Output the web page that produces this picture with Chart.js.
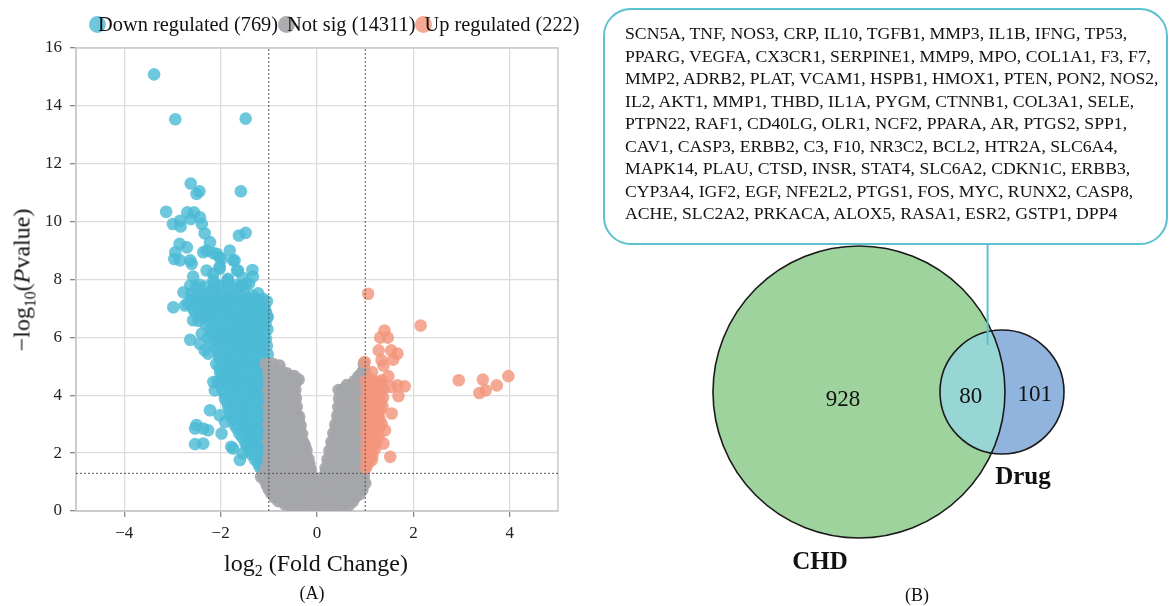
<!DOCTYPE html>
<html>
<head>
<meta charset="utf-8">
<script src="https://cdn.jsdelivr.net/npm/chart.js@4.4.1/dist/chart.umd.min.js"></script>
<style>
  html, body { margin: 0; padding: 0; background: #fff; }
  body { width: 1171px; height: 606px; position: relative; overflow: hidden; font-family: "Liberation Serif", "Times New Roman", serif; color: #111; }
  #volcanoWrap { position: absolute; left: 0; top: 0; width: 590px; height: 606px; }
  #vennWrap { position: absolute; left: 590px; top: 0; width: 581px; height: 606px; }
  .legend { position: absolute; left: 89px; top: 11px; font-size: 20.4px; white-space: nowrap; line-height: 26px; }
  .legend .dot { display: inline-block; width: 17px; height: 17px; border-radius: 50%; vertical-align: -2px; margin-right: -8px; }
  .ytitle { position: absolute; left: 22px; top: 280px; transform: translate(-50%, -50%) rotate(-90deg); font-size: 24px; white-space: nowrap; }
  .xtitle { position: absolute; left: 316px; top: 563px; transform: translate(-50%, -50%); font-size: 24px; white-space: nowrap; }
  sub { font-size: 0.66em; vertical-align: -0.35em; line-height: 0; }
  .panel { position: absolute; font-size: 18px; transform: translate(-50%, -50%); }
  .genebox { position: absolute; left: 603px; top: 8px; width: 561px; height: 233px; border: 2.5px solid #5bc0cf; border-radius: 28px; background: #fff; z-index: 2; box-sizing: content-box; }
  .genebox .txt { position: absolute; left: 20px; top: 12px; font-size: 17.7px; line-height: 22.5px; white-space: nowrap; }
</style>
</head>
<body>
<div id="volcanoWrap"><canvas id="volcano" width="590" height="606"></canvas></div>
<div id="vennWrap"><canvas id="venn" width="581" height="606"></canvas></div>

<div class="legend" id="legend"></div>
<div class="ytitle">&minus;log<sub>10</sub>(<i>P</i>value)</div>
<div class="xtitle">log<sub>2</sub> (Fold Change)</div>
<div class="panel" style="left:312px; top:593px;">(A)</div>
<div class="panel" style="left:917px; top:595px;">(B)</div>

<div class="genebox" id="genebox"><div class="txt" id="genes"></div></div>

<script>
// ---- volcano plot data ----
const groupNames = ['Down regulated', 'Not sig', 'Up regulated'];
const groupCounts = [769, 14311, 222];
const groupColors = ['rgba(77,187,213,0.82)', 'rgba(165,166,170,0.92)', 'rgba(243,150,124,0.82)'];
const xTicks = [-4, -2, 0, 2, 4];
const yTicks = [0, 2, 4, 6, 8, 10, 12, 14, 16];
const fcCutoff = 1;
const pCutoff = 0.05;

const downPoints = [
  [-3.38,15.09],[-2.94,13.54],[-1.48,13.56],[-2.62,11.32],[-2.50,10.96],[-2.44,11.05],[-1.58,11.05],
  [-3.13,10.34],[-2.69,10.32],[-2.55,10.32],[-2.43,10.15],[-2.99,9.92],[-2.84,10.03],[-2.83,9.83],
  [-2.62,10.09],[-2.39,9.92],[-2.33,9.60],[-1.62,9.52],[-1.48,9.61],[-2.85,9.23],[-2.70,9.11],[-2.22,9.29],
  [-2.94,8.94],[-2.96,8.71],[-2.84,8.66],[-2.63,8.66],[-2.60,8.54],[-2.36,8.94],[-2.29,9.0],[-2.15,8.91],
  [-2.02,8.77],[-1.81,9.0],[-1.74,8.66],[-1.66,8.31],[-2.29,8.31],[-2.15,8.2],[-2.02,8.37],[-1.34,8.33],
  [-1.33,8.1],[-2.57,8.1],[-1.85,8.02],[-1.54,8.06],[-2.08,8.89],[-1.98,8.71],[-1.71,8.66],[-2.02,8.43],
  [-1.64,8.31],[-2.15,7.97],[-1.85,7.97],[-2.63,7.79],[-2.77,7.56],[-2.50,7.74],[-2.29,7.33],[-2.46,7.39],
  [-2.15,7.62],[-2.02,7.74],[-1.81,7.62],[-1.60,7.74],[-1.47,7.85],[-2.98,7.04],[-2.74,7.10],[-2.60,7.33],
  [-2.02,7.16],[-1.81,7.04],[-1.64,7.28],[-1.40,7.04],[-1.13,6.70],[-1.02,6.70],
  [-2.57,6.99],[-2.57,6.59],[-2.43,6.76],[-2.63,5.92],[-2.43,5.78],[-2.33,5.55],[-2.26,5.44],[-2.39,6.13],
  [-2.15,4.46],[-2.12,4.17],[-2.22,3.48],[-2.02,3.31],[-1.98,2.68],[-2.50,2.97],[-2.53,2.85],[-2.36,2.85],
  [-2.26,2.79],[-2.53,2.31],[-2.36,2.33],[-1.78,2.22],[-1.91,3.08],[-1.74,2.16],[-1.60,1.76],[-1.54,1.99],
  [-1.19,1.53],
  [-2.44,7.82],[-2.31,7.76],[-2.13,7.85],[-1.98,7.79],[-1.84,7.88],[-1.69,7.8],[-1.56,7.77],[-1.41,7.86],
  [-2.61,7.5],[-2.41,7.47],[-2.26,7.55],[-2.09,7.44],[-1.94,7.52],[-1.79,7.46],[-1.66,7.54],[-1.51,7.49],[-1.36,7.45],[-1.22,7.52],
  [-2.68,7.18],[-2.49,7.23],[-2.36,7.15],[-2.21,7.21],[-2.04,7.17],[-1.89,7.24],[-1.76,7.16],[-1.59,7.2],[-1.46,7.14],[-1.31,7.22],[-1.16,7.17],[-1.04,7.25],
  [-2.53,6.88],[-2.39,6.93],[-2.24,6.86],[-2.11,6.92],[-1.96,6.87],[-1.79,6.94],[-1.66,6.85],[-1.49,6.91],[-1.34,6.86],[-1.21,6.93],[-1.06,6.88],
  [-2.46,6.57],[-2.29,6.63],[-2.16,6.55],[-1.99,6.61],[-1.86,6.58],[-1.69,6.64],[-1.54,6.56],[-1.41,6.62],[-1.26,6.57],[-1.11,6.63],
  [-2.21,6.28],[-2.06,6.33],[-1.91,6.26],[-1.74,6.31],[-1.61,6.27],[-1.44,6.34],[-1.29,6.25],[-1.16,6.31],[-1.03,6.28],
  [-2.26,5.98],[-2.09,6.03],[-1.94,5.96],[-1.81,6.02],[-1.64,5.97],[-1.51,6.04],[-1.34,5.99],[-1.19,6.01],[-1.06,5.95],
  [-2.11,5.68],[-1.96,5.73],[-1.79,5.66],[-1.66,5.72],[-1.49,5.67],[-1.36,5.74],[-1.21,5.69],[-1.04,5.71],
  [-2.04,5.38],[-1.89,5.43],[-1.76,5.36],[-1.59,5.42],[-1.46,5.37],[-1.31,5.44],[-1.14,5.39],[-1.02,5.41],
  [-2.09,5.08],[-1.94,5.13],[-1.81,5.06],[-1.64,5.12],[-1.51,5.07],[-1.34,5.14],[-1.19,5.09],[-1.05,5.11],
  [-2.01,4.78],[-1.86,4.83],[-1.69,4.76],[-1.56,4.82],[-1.39,4.77],[-1.26,4.84],[-1.09,4.79],
  [-2.06,4.48],[-1.89,4.53],[-1.76,4.46],[-1.61,4.52],[-1.44,4.47],[-1.31,4.54],[-1.16,4.49],[-1.02,4.51],
  [-1.96,4.18],[-1.81,4.23],[-1.64,4.16],[-1.51,4.22],[-1.34,4.17],[-1.21,4.24],[-1.06,4.19],
  [-1.91,3.88],[-1.74,3.93],[-1.61,3.86],[-1.44,3.92],[-1.31,3.87],[-1.14,3.94],[-1.02,3.89],
  [-1.84,3.58],[-1.71,3.63],[-1.54,3.56],[-1.41,3.62],[-1.24,3.57],[-1.11,3.64],
  [-1.79,3.28],[-1.66,3.33],[-1.49,3.26],[-1.36,3.32],[-1.19,3.27],[-1.06,3.34],
  [-1.71,2.98],[-1.54,3.03],[-1.41,2.96],[-1.24,3.02],[-1.11,2.97],
  [-1.61,2.68],[-1.44,2.73],[-1.31,2.66],[-1.16,2.72],[-1.02,2.67],
  [-1.49,2.38],[-1.36,2.43],[-1.21,2.36],[-1.06,2.42],
  [-1.41,2.08],[-1.24,2.13],[-1.11,2.06],
  [-1.29,1.78],[-1.16,1.83],[-1.03,1.76],
  [-1.13,1.48],[-1.02,1.52],
  [-2.53,7.35],[-2.37,7.33],[-2.19,7.37],[-2.03,7.34],[-1.87,7.36],[-1.72,7.32],[-1.58,7.38],[-1.43,7.34],[-1.28,7.36],[-1.12,7.33],
  [-2.45,7.05],[-2.3,7.03],[-2.14,7.07],[-1.98,7.04],[-1.83,7.06],[-1.69,7.02],[-1.53,7.08],[-1.38,7.04],[-1.24,7.06],[-1.09,7.03],
  [-2.38,6.75],[-2.22,6.73],[-2.07,6.77],[-1.92,6.74],[-1.77,6.76],[-1.62,6.72],[-1.47,6.78],[-1.32,6.74],[-1.18,6.76],[-1.04,6.73],
  [-2.31,6.45],[-2.14,6.43],[-1.98,6.47],[-1.83,6.44],[-1.68,6.46],[-1.52,6.42],[-1.37,6.48],[-1.22,6.44],[-1.07,6.46],
  [-2.17,6.15],[-2.0,6.13],[-1.85,6.17],[-1.69,6.14],[-1.54,6.16],[-1.39,6.12],[-1.24,6.18],[-1.09,6.14],
  [-2.19,5.85],[-2.03,5.83],[-1.87,5.87],[-1.72,5.84],[-1.57,5.86],[-1.42,5.82],[-1.27,5.88],[-1.12,5.84],
  [-2.06,5.55],[-1.9,5.53],[-1.74,5.57],[-1.59,5.54],[-1.43,5.56],[-1.28,5.52],[-1.13,5.58],
  [-2.02,5.25],[-1.86,5.23],[-1.71,5.27],[-1.56,5.24],[-1.41,5.26],[-1.26,5.22],[-1.1,5.28],
  [-2.02,4.95],[-1.87,4.93],[-1.72,4.97],[-1.57,4.94],[-1.42,4.96],[-1.27,4.92],[-1.12,4.98],
  [-1.97,4.65],[-1.82,4.63],[-1.66,4.67],[-1.51,4.64],[-1.36,4.66],[-1.21,4.62],[-1.06,4.68],
  [-2.0,4.35],[-1.84,4.33],[-1.69,4.37],[-1.54,4.34],[-1.38,4.36],[-1.23,4.32],[-1.09,4.38],
  [-1.92,4.05],[-1.76,4.03],[-1.61,4.07],[-1.45,4.04],[-1.3,4.06],[-1.15,4.02],
  [-1.86,3.75],[-1.7,3.73],[-1.55,3.77],[-1.39,3.74],[-1.24,3.76],[-1.09,3.72],
  [-1.8,3.45],[-1.64,3.43],[-1.48,3.47],[-1.33,3.44],[-1.18,3.46],[-1.04,3.42],
  [-1.74,3.15],[-1.58,3.13],[-1.43,3.17],[-1.28,3.14],[-1.13,3.16],
  [-1.66,2.85],[-1.51,2.83],[-1.36,2.87],[-1.21,2.84],[-1.07,2.86],
  [-1.55,2.55],[-1.4,2.53],[-1.26,2.57],[-1.11,2.54],
  [-1.46,2.25],[-1.31,2.23],[-1.17,2.27],[-1.04,2.24],
  [-1.35,1.95],[-1.21,1.93],[-1.07,1.97],
  [-1.22,1.65],[-1.08,1.63]
];

const notSigPoints = [
  [-1.06,5.09],[-0.92,5.09],[-0.78,5.03],[-0.54,4.63],[-0.38,4.54],[0.52,4.17],[0.62,4.20],[0.93,4.75],[0.97,5.09],
  [-1.16,1.18],[1.0,0.96],
  [-1.01,4.81],[-0.87,4.78],[-0.75,4.83],[-0.63,4.76],
  [-1.0,4.49],[-0.89,4.52],[-0.77,4.47],[-0.65,4.51],[-0.53,4.46],[-0.43,4.49],
  [-1.01,4.19],[-0.87,4.22],[-0.76,4.17],[-0.63,4.21],[-0.52,4.16],[-0.45,4.2],
  [-1.0,3.89],[-0.88,3.92],[-0.75,3.87],[-0.64,3.91],[-0.51,3.88],[-0.44,3.9],
  [-1.01,3.59],[-0.87,3.62],[-0.76,3.57],[-0.63,3.61],[-0.52,3.58],[-0.42,3.6],
  [-1.0,3.29],[-0.88,3.32],[-0.75,3.27],[-0.64,3.31],[-0.51,3.28],[-0.41,3.3],[-0.37,3.26],
  [-1.01,2.99],[-0.87,3.02],[-0.76,2.97],[-0.63,3.01],[-0.52,2.98],[-0.41,3.0],[-0.34,2.96],
  [-1.0,2.69],[-0.88,2.72],[-0.75,2.67],[-0.64,2.71],[-0.51,2.68],[-0.4,2.7],[-0.31,2.66],
  [-1.01,2.39],[-0.87,2.42],[-0.76,2.37],[-0.63,2.41],[-0.52,2.38],[-0.39,2.4],[-0.28,2.36],
  [-1.0,2.09],[-0.88,2.12],[-0.75,2.07],[-0.64,2.11],[-0.51,2.08],[-0.4,2.1],[-0.29,2.06],[-0.22,2.1],
  [-1.01,1.79],[-0.87,1.82],[-0.76,1.77],[-0.63,1.81],[-0.52,1.78],[-0.39,1.8],[-0.28,1.76],[-0.18,1.8],
  [-1.05,1.49],[-0.92,1.52],[-0.8,1.47],[-0.68,1.51],[-0.56,1.48],[-0.44,1.5],[-0.32,1.46],[-0.2,1.5],[-0.14,1.47],
  [-1.11,1.19],[-1.0,1.22],[-0.88,1.17],[-0.76,1.21],[-0.64,1.18],[-0.52,1.2],[-0.4,1.16],[-0.28,1.2],[-0.18,1.17],[-0.1,1.21],
  [-1.04,0.89],[-0.92,0.92],[-0.8,0.87],[-0.68,0.91],[-0.56,0.88],[-0.44,0.9],[-0.32,0.86],[-0.2,0.9],[-0.08,0.87],
  [-0.95,0.61],[-0.82,0.58],[-0.7,0.62],[-0.58,0.57],[-0.46,0.61],[-0.34,0.58],[-0.22,0.62],[-0.11,0.58],[-0.05,0.62],
  [-0.8,0.34],[-0.68,0.37],[-0.56,0.32],[-0.44,0.36],[-0.32,0.33],[-0.2,0.37],[-0.08,0.33],[-0.03,0.36],
  [-0.5,0.1],[-0.38,0.13],[-0.26,0.08],[-0.14,0.12],[-0.04,0.09],
  [-0.95,4.65],[-0.82,4.63],[-0.7,4.67],[-0.58,4.64],[-0.47,4.66],
  [-0.95,4.35],[-0.83,4.33],[-0.7,4.37],[-0.58,4.34],[-0.48,4.36],
  [-0.94,4.05],[-0.82,4.03],[-0.7,4.07],[-0.57,4.04],[-0.47,4.06],
  [-0.95,3.75],[-0.81,3.73],[-0.7,3.77],[-0.58,3.74],[-0.47,3.76],
  [-0.94,3.45],[-0.82,3.43],[-0.69,3.47],[-0.57,3.44],[-0.46,3.46],
  [-0.95,3.15],[-0.82,3.13],[-0.7,3.17],[-0.58,3.14],[-0.46,3.16],[-0.38,3.12],
  [-0.94,2.85],[-0.81,2.83],[-0.7,2.87],[-0.57,2.84],[-0.46,2.86],[-0.36,2.82],
  [-0.95,2.55],[-0.82,2.53],[-0.69,2.57],[-0.58,2.54],[-0.45,2.56],[-0.33,2.52],
  [-0.94,2.25],[-0.82,2.23],[-0.7,2.27],[-0.57,2.24],[-0.45,2.26],[-0.33,2.22],[-0.25,2.26],
  [-0.95,1.95],[-0.81,1.93],[-0.7,1.97],[-0.58,1.94],[-0.46,1.96],[-0.34,1.92],[-0.23,1.96],
  [-0.99,1.65],[-0.86,1.63],[-0.74,1.67],[-0.62,1.64],[-0.5,1.66],[-0.38,1.62],[-0.26,1.66],[-0.16,1.63],
  [-1.06,1.35],[-0.94,1.33],[-0.82,1.37],[-0.7,1.34],[-0.58,1.36],[-0.46,1.32],[-0.34,1.36],[-0.22,1.33],[-0.13,1.36],
  [-1.08,1.05],[-0.97,1.03],[-0.85,1.07],[-0.73,1.04],[-0.61,1.06],[-0.49,1.02],[-0.37,1.06],[-0.25,1.03],[-0.13,1.06],[-0.07,1.03],
  [-1.0,0.75],[-0.87,0.73],[-0.75,0.77],[-0.63,0.74],[-0.51,0.76],[-0.39,0.72],[-0.27,0.76],[-0.15,0.73],[-0.06,0.76],
  [-0.89,0.48],[-0.76,0.46],[-0.64,0.5],[-0.52,0.47],[-0.4,0.49],[-0.28,0.45],[-0.16,0.49],[-0.06,0.46],
  [-0.66,0.22],[-0.55,0.2],[-0.43,0.24],[-0.31,0.21],[-0.19,0.23],[-0.09,0.2],
  [0.95,4.82],[1.0,4.78],
  [0.78,4.49],[0.9,4.52],[1.0,4.47],
  [0.45,4.18],[0.57,4.22],[0.68,4.17],[0.8,4.21],[0.92,4.19],[1.0,4.23],
  [0.46,3.89],[0.58,3.92],[0.7,3.87],[0.82,3.91],[0.94,3.88],
  [0.44,3.59],[0.56,3.62],[0.68,3.57],[0.8,3.61],[0.92,3.58],
  [0.42,3.29],[0.54,3.32],[0.66,3.27],[0.78,3.31],[0.9,3.28],[0.98,3.3],
  [0.38,2.99],[0.5,3.02],[0.62,2.97],[0.74,3.01],[0.86,2.98],[0.98,3.0],
  [0.34,2.69],[0.46,2.72],[0.58,2.67],[0.7,2.71],[0.82,2.68],[0.94,2.7],
  [0.3,2.39],[0.42,2.42],[0.54,2.37],[0.66,2.41],[0.78,2.38],[0.9,2.4],[0.99,2.37],
  [0.26,2.09],[0.38,2.12],[0.5,2.07],[0.62,2.11],[0.74,2.08],[0.86,2.1],[0.98,2.06],
  [0.22,1.79],[0.34,1.82],[0.46,1.77],[0.58,1.81],[0.7,1.78],[0.82,1.8],[0.94,1.76],
  [0.18,1.49],[0.3,1.52],[0.42,1.47],[0.54,1.51],[0.66,1.48],[0.78,1.5],[0.9,1.46],[0.99,1.5],
  [0.13,1.19],[0.25,1.22],[0.37,1.17],[0.49,1.21],[0.61,1.18],[0.73,1.2],[0.85,1.16],[0.97,1.2],
  [0.08,0.89],[0.2,0.92],[0.32,0.87],[0.44,0.91],[0.56,0.88],[0.68,0.9],[0.8,0.86],[0.92,0.9],
  [0.05,0.61],[0.16,0.58],[0.28,0.62],[0.4,0.57],[0.52,0.61],[0.64,0.58],[0.76,0.62],[0.88,0.58],
  [0.03,0.34],[0.14,0.37],[0.26,0.32],[0.38,0.36],[0.5,0.33],[0.62,0.37],[0.74,0.33],
  [0.04,0.1],[0.14,0.13],[0.26,0.08],[0.38,0.12],[0.48,0.09],
  [0.86,4.65],[0.96,4.63],
  [0.62,4.35],[0.74,4.33],[0.86,4.37],[0.97,4.34],
  [0.52,4.05],[0.64,4.03],[0.76,4.07],[0.88,4.04],[0.99,4.06],
  [0.5,3.75],[0.62,3.73],[0.74,3.77],[0.86,3.74],[0.97,3.76],
  [0.48,3.45],[0.6,3.43],[0.72,3.47],[0.84,3.44],[0.96,3.46],
  [0.44,3.15],[0.56,3.13],[0.68,3.17],[0.8,3.14],[0.92,3.16],
  [0.4,2.85],[0.52,2.83],[0.64,2.87],[0.76,2.84],[0.88,2.86],[0.99,2.82],
  [0.36,2.55],[0.48,2.53],[0.6,2.57],[0.72,2.54],[0.84,2.56],[0.96,2.52],
  [0.32,2.25],[0.44,2.23],[0.56,2.27],[0.68,2.24],[0.8,2.26],[0.92,2.22],
  [0.28,1.95],[0.4,1.93],[0.52,1.97],[0.64,1.94],[0.76,1.96],[0.88,1.92],[0.99,1.96],
  [0.24,1.65],[0.36,1.63],[0.48,1.67],[0.6,1.64],[0.72,1.66],[0.84,1.62],[0.96,1.66],
  [0.19,1.35],[0.31,1.33],[0.43,1.37],[0.55,1.34],[0.67,1.36],[0.79,1.32],[0.91,1.36],
  [0.14,1.05],[0.26,1.03],[0.38,1.07],[0.5,1.04],[0.62,1.06],[0.74,1.02],[0.86,1.06],[0.97,1.03],
  [0.1,0.75],[0.22,0.73],[0.34,0.77],[0.46,0.74],[0.58,0.76],[0.7,0.72],[0.82,0.76],[0.94,0.73],
  [0.09,0.48],[0.2,0.46],[0.32,0.5],[0.44,0.47],[0.56,0.49],[0.68,0.45],[0.8,0.49],
  [0.09,0.22],[0.2,0.2],[0.32,0.24],[0.44,0.21],[0.56,0.23],[0.66,0.2]
];

const upPoints = [
  [1.06,7.51],[2.15,6.41],[1.40,6.24],[1.31,5.99],[1.47,5.99],[1.28,5.55],[1.54,5.55],[1.67,5.44],
  [1.58,5.23],[1.34,5.21],[1.38,5.03],[0.99,5.15],[1.14,4.80],[1.48,4.66],[1.34,4.52],[1.67,4.34],
  [1.82,4.31],[1.69,3.97],[1.54,4.29],[2.94,4.52],[3.44,4.54],[3.73,4.34],[3.97,4.66],[3.50,4.17],
  [3.37,4.08],[1.55,3.37],[1.41,2.79],[1.38,2.33],[1.21,2.16],[1.52,1.87],[1.14,1.76],
  [1.02,4.49],[1.14,4.53],[1.26,4.46],
  [1.03,4.19],[1.15,4.22],[1.26,4.17],[1.38,4.21],
  [1.02,3.89],[1.13,3.92],[1.25,3.87],[1.37,3.91],
  [1.03,3.59],[1.14,3.62],[1.26,3.57],[1.36,3.61],
  [1.02,3.29],[1.15,3.32],[1.27,3.27],
  [1.03,2.99],[1.14,3.02],[1.25,2.97],[1.34,3.01],
  [1.02,2.69],[1.13,2.72],[1.24,2.67],
  [1.03,2.39],[1.12,2.42],[1.22,2.37],
  [1.02,2.09],[1.11,2.12],
  [1.03,1.79],[1.1,1.82],
  [1.02,1.49],
  [1.08,4.35],[1.2,4.33],[1.32,4.37],
  [1.08,4.05],[1.2,4.03],[1.31,4.07],
  [1.08,3.75],[1.2,3.73],[1.32,3.77],
  [1.08,3.45],[1.2,3.43],[1.31,3.47],
  [1.08,3.15],[1.2,3.13],[1.3,3.17],
  [1.08,2.85],[1.19,2.83],[1.29,2.87],
  [1.07,2.55],[1.17,2.53],[1.28,2.57],
  [1.07,2.25],[1.16,2.23],
  [1.06,1.95],[1.15,1.93],
  [1.06,1.65]
];

// ---- Venn data ----
const vennSets = ['CHD', 'Drug'];
const vennOnly = [928, 101];
const vennShared = 80;
const vennCenterX = [26.9, 41.2];
const vennCenterY = [21.4, 21.4];
const vennRadius = [14.6, 6.2];
const vennColors = ['#9ed39e', '#91b4df'];
const vennSharedColor = '#98d6d6';

const sharedGenes = [
  'SCN5A, TNF, NOS3, CRP, IL10, TGFB1, MMP3, IL1B, IFNG, TP53,',
  'PPARG, VEGFA, CX3CR1, SERPINE1, MMP9, MPO, COL1A1, F3, F7,',
  'MMP2, ADRB2, PLAT, VCAM1, HSPB1, HMOX1, PTEN, PON2, NOS2,',
  'IL2, AKT1, MMP1, THBD, IL1A, PYGM, CTNNB1, COL3A1, SELE,',
  'PTPN22, RAF1, CD40LG, OLR1, NCF2, PPARA, AR, PTGS2, SPP1,',
  'CAV1, CASP3, ERBB2, C3, F10, NR3C2, BCL2, HTR2A, SLC6A4,',
  'MAPK14, PLAU, CTSD, INSR, STAT4, SLC6A2, CDKN1C, ERBB3,',
  'CYP3A4, IGF2, EGF, NFE2L2, PTGS1, FOS, MYC, RUNX2, CASP8,',
  'ACHE, SLC2A2, PRKACA, ALOX5, RASA1, ESR2, GSTP1, DPP4'
];

// legend + gene list text
const legendEl = document.getElementById('legend');
groupNames.forEach((name, i) => {
  const item = document.createElement('span');
  item.innerHTML = '<span class="dot" style="background:' + groupColors[i] + '"></span>' + name + ' (' + groupCounts[i] + ')';
  legendEl.appendChild(item);
});
document.getElementById('genes').innerHTML = sharedGenes.map(l => '<div>' + l + '</div>').join('');

const serif = "'Liberation Serif', 'Times New Roman', serif";
const toXY = arr => arr.map(p => ({ x: p[0], y: p[1] }));
const pLine = -Math.log10(pCutoff);

function cutLine(points) {
  return {
    type: 'scatter',
    data: points,
    showLine: true,
    borderColor: '#555',
    borderWidth: 1,
    borderDash: [2, 2],
    pointRadius: 0,
    order: 0
  };
}

// frame round the plot area
const framePlugin = {
  id: 'frame',
  beforeDatasetsDraw(chart) {
    const a = chart.chartArea, c = chart.ctx;
    c.save();
    c.strokeStyle = '#c9c9c9';
    c.lineWidth = 1.5;
    c.strokeRect(a.left, a.top, a.right - a.left, a.bottom - a.top);
    c.restore();
  }
};

new Chart(document.getElementById('volcano').getContext('2d'), {
  type: 'scatter',
  data: {
    datasets: [
      { label: groupNames[0], data: toXY(downPoints), backgroundColor: groupColors[0], pointRadius: 6.3, borderWidth: 0, order: 3 },
      { label: groupNames[1], data: toXY(notSigPoints), backgroundColor: groupColors[1], pointRadius: 6.3, borderWidth: 0, order: 2 },
      { label: groupNames[2], data: toXY(upPoints), backgroundColor: groupColors[2], pointRadius: 6.3, borderWidth: 0, order: 1 },
      cutLine([{ x: -fcCutoff, y: 0 }, { x: -fcCutoff, y: 16 }]),
      cutLine([{ x: fcCutoff, y: 0 }, { x: fcCutoff, y: 16 }]),
      cutLine([{ x: -5, y: pLine }, { x: 5, y: pLine }])
    ]
  },
  options: {
    responsive: false,
    animation: false,
    layout: { padding: { left: 30, right: 32, top: 48, bottom: 59 } },
    plugins: { legend: { display: false }, tooltip: { enabled: false } },
    scales: {
      x: {
        type: 'linear', min: -5, max: 5,
        afterBuildTicks: s => { s.ticks = xTicks.map(v => ({ value: v })); },
        afterFit: s => { s.height = 36; },
        grid: { color: '#dcdcdc', lineWidth: 1.3, tickLength: 6, tickColor: '#888' },
        border: { color: '#c9c9c9', width: 1.5 },
        ticks: { color: '#222', padding: 6, font: { family: serif, size: 17 }, callback: v => String(v).replace('-', '\u2212') }
      },
      y: {
        type: 'linear', min: 0, max: 16,
        afterBuildTicks: s => { s.ticks = yTicks.map(v => ({ value: v })); },
        afterFit: s => { s.width = 46; },
        grid: { color: '#dcdcdc', lineWidth: 1.3, tickLength: 6, tickColor: '#888' },
        border: { color: '#c9c9c9', width: 1.5 },
        ticks: { color: '#222', padding: 8, font: { family: serif, size: 17 } }
      }
    }
  },
  plugins: [framePlugin]
});

// ---- Venn diagram ----
const unitPx = chart => chart.scales.x.getPixelForValue(1) - chart.scales.x.getPixelForValue(0);

const vennPlugin = {
  id: 'vennExtras',
  afterDatasetsDraw(chart) {
    const c = chart.ctx, xs = chart.scales.x, ys = chart.scales.y;
    const px = v => xs.getPixelForValue(v), py = v => ys.getPixelForValue(v);
    const unit = unitPx(chart);
    const A = { x: px(vennCenterX[0]), y: py(vennCenterY[0]), r: vennRadius[0] * unit };
    const B = { x: px(vennCenterX[1]), y: py(vennCenterY[1]), r: vennRadius[1] * unit };
    c.save();
    // overlap lens
    c.beginPath(); c.arc(A.x, A.y, A.r, 0, Math.PI * 2); c.clip();
    c.beginPath(); c.arc(B.x, B.y, B.r, 0, Math.PI * 2);
    c.fillStyle = vennSharedColor; c.fill();
    c.restore();
    c.save();
    c.strokeStyle = '#1a1a1a'; c.lineWidth = 1.6;
    [A, B].forEach(o => { c.beginPath(); c.arc(o.x, o.y, o.r, 0, Math.PI * 2); c.stroke(); });
    // intersection point and connector up to the gene box
    const d = B.x - A.x;
    const a = (A.r * A.r - B.r * B.r + d * d) / (2 * d);
    const ix = A.x + a, iy = A.y - Math.sqrt(A.r * A.r - a * a);
    const boxBottom = document.getElementById('genebox').getBoundingClientRect().bottom - chart.canvas.getBoundingClientRect().top;
    c.strokeStyle = '#5bc0cf'; c.lineWidth = 2;
    c.beginPath(); c.moveTo(ix - 4, boxBottom); c.lineTo(ix - 4, iy + 14); c.stroke();
    // counts
    c.fillStyle = '#111';
    c.textAlign = 'center'; c.textBaseline = 'middle';
    c.font = '23px ' + serif;
    c.fillText(String(vennOnly[0]), A.x - 16, A.y + 8);
    c.fillText(String(vennShared), ((B.x - B.r) + ix) / 2 + 5, A.y + 5);
    c.fillText(String(vennOnly[1]), (ix + B.x + B.r) / 2 + 7, B.y + 3);
    // set names
    c.font = 'bold 25px ' + serif;
    c.fillText(vennSets[0], A.x - 39, A.y + A.r + 25);
    c.fillText(vennSets[1], B.x + 21, B.y + B.r + 24);
    c.restore();
  }
};

new Chart(document.getElementById('venn').getContext('2d'), {
  type: 'scatter',
  data: {
    datasets: vennSets.map((name, i) => ({
      label: name,
      data: [{ x: vennCenterX[i], y: vennCenterY[i] }],
      backgroundColor: vennColors[i],
      borderWidth: 0,
      pointRadius: ctx => vennRadius[i] * unitPx(ctx.chart),
      pointHoverRadius: ctx => vennRadius[i] * unitPx(ctx.chart),
      order: 2 - i
    }))
  },
  options: {
    responsive: false,
    animation: false,
    clip: false,
    layout: { padding: 0 },
    plugins: { legend: { display: false }, tooltip: { enabled: false } },
    scales: {
      x: { type: 'linear', min: 0, max: 58.1, display: false },
      y: { type: 'linear', min: 0, max: 60.6, display: false }
    }
  },
  plugins: [vennPlugin]
});
</script>
</body>
</html>
